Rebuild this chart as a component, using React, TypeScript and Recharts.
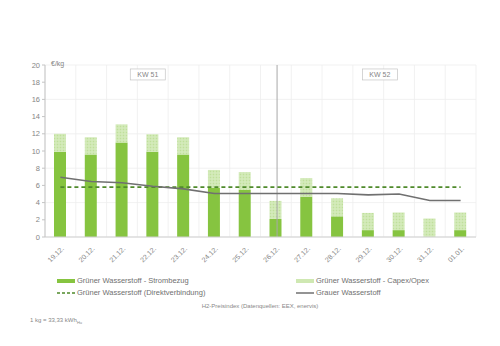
import React from "react";
import {
  ComposedChart,
  Bar,
  Line,
  XAxis,
  YAxis,
  CartesianGrid,
  ReferenceLine,
  ReferenceDot,
} from "recharts";

const days = ["19.12.", "20.12.", "21.12.", "22.12.", "23.12.", "24.12.", "25.12.", "26.12.", "27.12.", "28.12.", "29.12.", "30.12.", "31.12.", "01.01."];
const strombezug = [9.9, 9.6, 11.0, 9.9, 9.6, 5.7, 5.5, 2.1, 4.7, 2.4, 0.8, 0.8, 0, 0.8];
const capexOpex = [2.1, 2.0, 2.1, 2.05, 2.0, 2.1, 2.05, 2.1, 2.15, 2.1, 2.0, 2.05, 2.15, 2.05];
const direkt = [5.8, 5.8, 5.8, 5.8, 5.8, 5.8, 5.8, 5.8, 5.8, 5.8, 5.8, 5.8, 5.8, 5.8];
const grau = [6.95, 6.45, 6.3, 5.9, 5.6, 5.05, 5.05, 5.05, 5.05, 5.05, 4.9, 5.0, 4.25, 4.25];
const yTicks = [0, 2, 4, 6, 8, 10, 12, 14, 16, 18, 20];
const weeks = [
  { label: "KW 51", pos: 3.1 },
  { label: "KW 52", pos: 10.1 },
];

const data = days.map((d, i) => ({
  day: d,
  strom: strombezug[i],
  capex: capexOpex[i],
  direkt: direkt[i],
  grau: grau[i],
}));

const DARK = "#86c440";
const LIGHT = "#cfe8b2";
const DASH = "#4f8a2b";
const GREY = "#707070";
const TXT = "#858585";
const FONT = "'Liberation Sans', Arial, sans-serif";

const XTick = (props: any) => {
  const { x, y, payload } = props;
  return (
    <text
      x={x + 4}
      y={y + 4}
      transform={`rotate(-45 ${x + 4} ${y + 4})`}
      textAnchor="end"
      fontSize={7}
      fill={TXT}
      fontFamily={FONT}
    >
      {payload.value}
    </text>
  );
};

const WeekBox = (props: any) => {
  const { cx, cy, label } = props;
  const w = 35;
  const h = 11;
  return (
    <g>
      <rect x={cx - w / 2} y={cy - h / 2} width={w} height={h} fill="#fff" stroke="#c4c4c4" strokeWidth={0.7} />
      <text x={cx} y={cy + 2.5} textAnchor="middle" fontSize={7} fill={TXT} fontFamily={FONT}>
        {label}
      </text>
    </g>
  );
};

const legendItems = [
  { name: "Grüner Wasserstoff - Strombezug", kind: "bar", color: DARK },
  { name: "Grüner Wasserstoff - Capex/Opex", kind: "bar", color: LIGHT },
  { name: "Grüner Wasserstoff (Direktverbindung)", kind: "dash", color: DASH },
  { name: "Grauer Wasserstoff", kind: "line", color: GREY },
];

const LegendBox = () => (
  <div style={{ fontFamily: FONT, fontSize: 7.5, color: "#707070", position: "absolute", left: 0, top: 276, width: 500, height: 60 }}>
    {legendItems.map((it, i) => {
      const left = i % 2 === 0 ? 57 : 296;
      const top = i < 2 ? 0 : 12;
      return (
        <div key={it.name} style={{ position: "absolute", left, top, display: "flex", alignItems: "center", whiteSpace: "nowrap" }}>
          <svg width={18} height={6} style={{ marginRight: 2 }}>
            {it.kind === "bar" && <rect x={0} y={1} width={18} height={4} fill={it.color} />}
            {it.kind === "dash" && <line x1={0} x2={18} y1={3} y2={3} stroke={it.color} strokeWidth={1.5} strokeDasharray="3 2" />}
            {it.kind === "line" && <line x1={0} x2={18} y1={3} y2={3} stroke={it.color} strokeWidth={1.5} />}
          </svg>
          <span>{it.name}</span>
        </div>
      );
    })}
    <div style={{ position: "absolute", left: 0, width: 520, top: 27, textAlign: "center", fontSize: 6, color: "#888" }}>
      H2-Preisindex (Datenquellen: EEX, enervis)
    </div>
    <div style={{ position: "absolute", left: 30, top: 41, fontSize: 6, color: "#888" }}>
      1 kg = 33,33 kWh<sub style={{ fontSize: 4 }}>Hu</sub>
    </div>
  </div>
);

export default function App() {
  return (
    <div style={{ position: "absolute", left: 0, top: 0, width: 500, height: 346, background: "#fff" }}>
      <ComposedChart
        width={500}
        height={346}
        data={data}
        margin={{ top: 65, right: 24, bottom: 69, left: 0 }}
        barCategoryGap={0}
      >
        <defs>
          <pattern id="hatch" width="3" height="3" patternUnits="userSpaceOnUse">
            <rect width="3" height="3" fill={LIGHT} />
            <rect width="1" height="1" fill="#bfdf9c" />
            <rect x="1.5" y="1.5" width="1" height="1" fill="#e2f1d2" />
          </pattern>
        </defs>
        <CartesianGrid
          stroke="#ededed"
          strokeWidth={0.8}
          verticalCoordinatesGenerator={({ offset }: any) =>
            Array.from({ length: days.length + 1 }, (_, i) => offset.left + (offset.width * i) / days.length)
          }
        />
        <XAxis
          dataKey="day"
          tick={<XTick />}
          interval={0}
          axisLine={{ stroke: "#d0d0d0" }}
          tickLine={false}
          height={40}
        />
        <XAxis xAxisId="w" type="number" domain={[0, days.length]} hide />
        <YAxis
          domain={[0, 20]}
          ticks={yTicks}
          width={45}
          tickSize={3}
          tickLine={{ stroke: "#c4c4c4" }}
          axisLine={{ stroke: "#c4c4c4" }}
          tick={{ fontSize: 7.5, fill: TXT, fontFamily: FONT }}
          label={{ value: "€/kg", position: "insideTopLeft", dx: 46, dy: -9, fontSize: 7, fill: TXT, fontFamily: FONT }}
        />
        <ReferenceLine xAxisId="w" x={7} stroke="#a8a8a8" strokeWidth={1} ifOverflow="visible" />
        {weeks.map((w) => (
          <ReferenceDot
            key={w.label}
            xAxisId="w"
            x={w.pos}
            y={18.9}
            r={0}
            shape={(p: any) => <WeekBox {...p} label={w.label} />}
          />
        ))}
        <Bar dataKey="strom" stackId="a" fill={DARK} barSize={12} isAnimationActive={false} />
        <Bar dataKey="capex" stackId="a" fill="url(#hatch)" barSize={12} isAnimationActive={false} />
        <Line dataKey="direkt" stroke={DASH} strokeWidth={1.6} strokeDasharray="4 3" dot={false} isAnimationActive={false} />
        <Line dataKey="grau" stroke={GREY} strokeWidth={1.6} dot={false} isAnimationActive={false} />
      </ComposedChart>
      <LegendBox />
    </div>
  );
}
